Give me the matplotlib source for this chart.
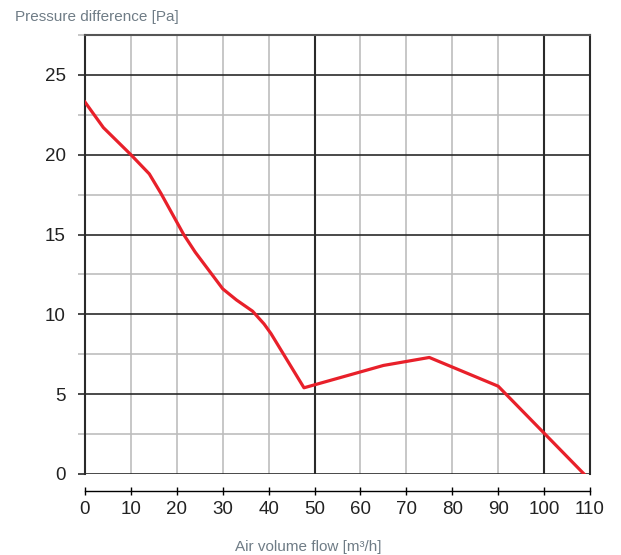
import numpy as np
import matplotlib
matplotlib.use("Agg")
import matplotlib.pyplot as plt
from matplotlib.ticker import MultipleLocator

plt.rcParams['font.family'] = ['Liberation Sans', 'DejaVu Sans']

# curve
flow = [0, 4, 10, 14, 16.5, 21.5, 24, 30, 33, 36.5, 39, 40.5, 47.7, 65, 75, 90, 108.7]
pressure = [23.3, 21.7, 20.0, 18.8, 17.6, 15.0, 13.9, 11.6, 10.9, 10.2, 9.4, 8.8, 5.4, 6.8, 7.3, 5.5, 0.0]

x_ticks = list(range(0, 111, 10))
y_ticks = [0, 5, 10, 15, 20, 25]
x_label = "Air volume flow [m³/h]"
y_label = "Pressure difference [Pa]"

dark = "#2a2a2a"
light = "#bdbdbd"
title_col = "#6f7c86"

fig = plt.figure(figsize=(6.21, 5.55), dpi=100)
ax = fig.add_axes([85 / 621, 1 - 474 / 555, 505 / 621, 439 / 555])

ax.set_xlim(0, 110)
ax.set_ylim(0, 27.5)

ax.set_xticks(x_ticks)
ax.set_yticks(y_ticks)
ax.yaxis.set_minor_locator(MultipleLocator(2.5))

ax.grid(True, which="major", axis="x", color=light, lw=1.2)
ax.grid(True, which="major", axis="y", color=dark, lw=1.2)
ax.grid(True, which="minor", axis="y", color=light, lw=1.2)
for xv in (50, 100):
    ax.axvline(xv, color=dark, lw=1.5, zorder=1.5)
ax.set_axisbelow(True)

ax.plot(flow, pressure, color="#e8202a", lw=2.3, solid_joinstyle="round", zorder=3)

for s in ("left", "right"):
    ax.spines[s].set_color(dark)
    ax.spines[s].set_linewidth(1.5)
ax.spines["top"].set_color("#555555")
ax.spines["top"].set_linewidth(1.5)
ax.spines["bottom"].set_position(("outward", 12.2))
ax.spines["bottom"].set_color("black")
ax.spines["bottom"].set_linewidth(1.0)

ax.tick_params(axis="x", direction="inout", length=6, width=1, color="black",
               pad=4, labelsize=13.5, labelcolor="#222222")
ax.tick_params(axis="y", which="major", direction="out", length=5, width=1.2,
               color=dark, pad=9, labelsize=13.5, labelcolor="#222222")
ax.tick_params(axis="y", which="minor", direction="out", length=5, width=1.2,
               color=light)

fig.text(15 / 621, 1 - 17 / 555, y_label, fontsize=11, color=title_col,
         ha="left", va="center")
fig.text(308 / 621, 1 - 547 / 555, x_label, fontsize=11, color=title_col,
         ha="center", va="center")

fig.savefig("out.png", dpi=100)
